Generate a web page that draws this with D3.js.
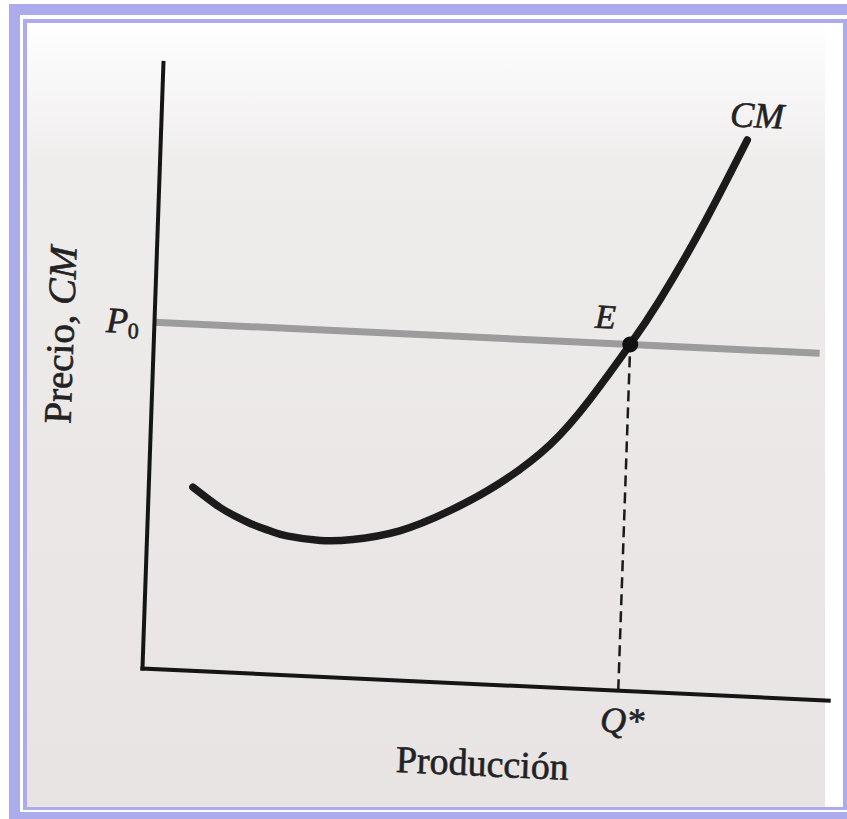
<!DOCTYPE html>
<html><head><meta charset="utf-8">
<script src="https://cdn.jsdelivr.net/npm/d3@7"></script>
<style>body{margin:0;background:#fff}</style>
</head><body><svg id="c" width="847" height="819"></svg>
<script>
// ---- data (arbitrary units 0..100) ----
const cmX = [6.5, 10.5, 13.1, 15.4, 17.9, 20.4, 25.3, 30.0, 36.8, 44.0, 51.1, 58.2, 63.8, 69.4, 73.5, 79.0, 85.4];
const cmY = [30.2, 27.1, 25.6, 24.5, 23.6, 22.9, 22.4, 22.8, 24.6, 28.3, 33.2, 39.9, 47.7, 57.1, 64.7, 76.4, 91.7];
const priceP0 = 57.1;
const qStar = 69.4;
const priceLineExtent = [0, 97];
const axisLabels = ["Producción", "Precio, ", "CM"];
const markLabels = ["P", "0", "E", "CM", "Q*"];

const svg = d3.select("#c");
const W = 847, H = 819;
const lav = "#acacec";

// background / scanned page
const defs = svg.append("defs");
const g1 = defs.append("linearGradient").attr("id","bg").attr("x1",0).attr("y1",0).attr("x2",0).attr("y2",1);
[[0,"#fefefe"],[0.07,"#f9f8f8"],[0.18,"#efecec"],[0.6,"#ebe7e7"],[1,"#e8e4e4"]].forEach(([o,c])=>g1.append("stop").attr("offset",o).attr("stop-color",c));
svg.append("rect").attr("width",W).attr("height",H).attr("fill","#fff");
svg.append("rect").attr("x",27).attr("y",23).attr("width",798).attr("height",784).attr("fill","url(#bg)");

// frame
[[9,4,838,11],[9,4,11,815],[9,812,838,7],[23,19,824,4],[23,19,4,791],[23,807,824,3],[843,19,4,791]]
  .forEach(([x,y,w,h])=>svg.append("rect").attr("x",x).attr("y",y).attr("width",w).attr("height",h).attr("fill",lav));

// chart group (slightly skewed like the scan)
const g = svg.append("g").attr("transform","matrix(0.9989,0.0466,-0.0346,0.9994,142,668)");
const x = d3.scaleLinear().domain([0,100]).range([0,687]);
const y = d3.scaleLinear().domain([0,100]).range([0,-606]);

// price line P0
g.append("line")
  .attr("x1",x(priceLineExtent[0])).attr("x2",x(priceLineExtent[1]))
  .attr("y1",y(priceP0)).attr("y2",y(priceP0))
  .attr("stroke","#939393").attr("stroke-width",7).attr("stroke-opacity",0.9);

// axes
const xa = g.append("g").call(d3.axisBottom(x).tickValues([]).tickSizeOuter(0));
const ya = g.append("g").call(d3.axisLeft(d3.scaleLinear().domain([0,100]).range([0,-606])).tickValues([]).tickSizeOuter(0));
[xa,ya].forEach(a=>a.select(".domain").attr("stroke","#151515").attr("stroke-width",4).attr("stroke-linecap","square"));

// dashed Q* line
g.append("line")
  .attr("x1",x(qStar)).attr("x2",x(qStar))
  .attr("y1",y(0)).attr("y2",y(priceP0))
  .attr("stroke","#1a1a1a").attr("stroke-width",2.5).attr("stroke-dasharray","11,6");

// CM curve
const pts = cmX.map((v,i)=>[v,cmY[i]]);
g.append("path").datum(pts)
  .attr("d", d3.line().x(d=>x(d[0])).y(d=>y(d[1])).curve(d3.curveNatural))
  .attr("fill","none").attr("stroke","#1b1b1b").attr("stroke-width",7.5).attr("stroke-linecap","round");

// equilibrium point
g.append("circle").attr("cx",x(qStar)).attr("cy",y(priceP0)).attr("r",8).attr("fill","#111");

const serif = "'Liberation Serif','DejaVu Serif',serif";
const ink = "#222";
const thick = t => t.attr("stroke",ink).attr("stroke-width",0.6);

// P0 label
const p0 = g.append("text").attr("x",x(0)-15).attr("y",y(priceP0)+12)
  .attr("text-anchor","end").attr("font-family",serif).attr("fill",ink).call(thick);
p0.append("tspan").attr("font-size",36).attr("font-style","italic").text(markLabels[0]);
p0.append("tspan").attr("font-size",22).attr("dy",5).text(markLabels[1]);

// E label
g.append("text").attr("x",x(qStar)-36).attr("y",y(priceP0)-15)
  .attr("font-family",serif).attr("font-style","italic").attr("font-size",34).attr("fill",ink).call(thick).text(markLabels[2]);

// CM label
g.append("text").attr("x",x(cmX[cmX.length-1])-18).attr("y",y(cmY[cmY.length-1])-13)
  .attr("font-family",serif).attr("font-style","italic").attr("font-size",36).attr("fill",ink).call(thick).text(markLabels[3]);

// Q* label
g.append("text").attr("x",x(qStar)-17).attr("y",y(0)+42)
  .attr("font-family",serif).attr("font-style","italic").attr("font-size",36).attr("fill",ink).call(thick).text(markLabels[4]);

// x-axis title
g.append("text").attr("x",x(50)).attr("y",y(0)+92).attr("text-anchor","middle")
  .attr("font-family",serif).attr("font-size",38).attr("fill",ink).call(thick).text(axisLabels[0]);

// y-axis title
const yt = g.append("text").attr("transform",`translate(${x(0)-80},${y(54.3)}) rotate(-90)`)
  .attr("text-anchor","middle").attr("font-family",serif).attr("font-size",39).attr("fill",ink).call(thick);
yt.append("tspan").text(axisLabels[1]);
yt.append("tspan").attr("font-style","italic").text(axisLabels[2]);
</script>
</body></html>
